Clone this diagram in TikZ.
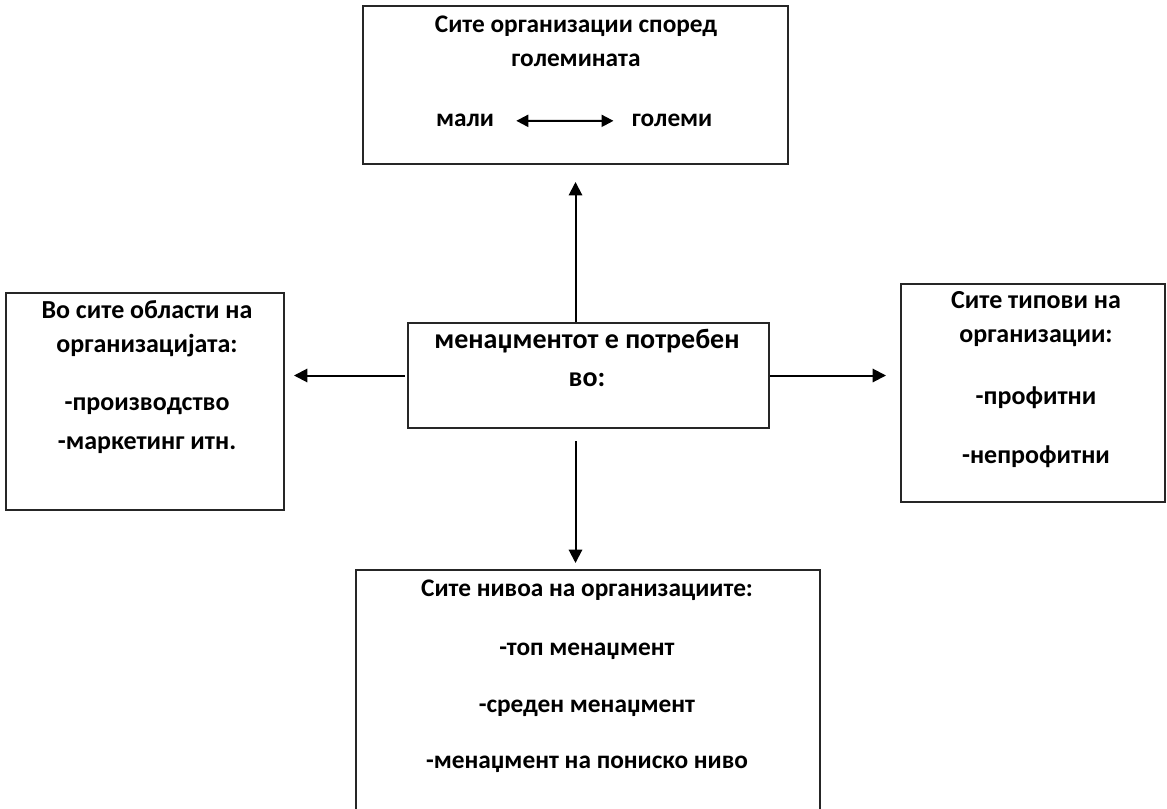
\documentclass[tikz,border=0pt]{standalone}
\usepackage{fontspec}
\setmainfont{Carlito}
\usetikzlibrary{arrows.meta,calc}
\tikzset{
  box/.style={draw=black!85, line width=1.5pt, fill=none, inner sep=0pt, anchor=north west},
  txt/.style={anchor=base, inner sep=0pt, font=\bfseries\fontsize{19pt}{23pt}\selectfont},
  ctxt/.style={anchor=base, inner sep=0pt, font=\bfseries\fontsize{21pt}{25pt}\selectfont},
  stxt/.style={anchor=base, inner sep=0pt, font=\bfseries\fontsize{19.5pt}{23pt}\selectfont},
  arr/.style={line width=1.5pt, draw=black, -{Triangle[length=10pt,width=10pt]}},
  darr/.style={line width=1.5pt, draw=black, {Triangle[length=9pt,width=9pt]}-{Triangle[length=9pt,width=9pt]}}
}
\begin{document}
\begin{tikzpicture}[x=0.75pt,y=-0.75pt]
\useasboundingbox (0,0) rectangle (1167,809);
% boxes
\node[box, minimum width=425*0.75pt, minimum height=158*0.75pt] (top) at (362,5) {};
\node[box, minimum width=361*0.75pt, minimum height=105*0.75pt] (ctr) at (407,322) {};
\node[box, minimum width=278*0.75pt, minimum height=217*0.75pt] (lft) at (5,292) {};
\begin{scope}
\clip (0,0) rectangle (1167,809);
\node[box, minimum width=264*0.75pt, minimum height=218*0.75pt] (rgt) at (900,283) {};
\node[box, minimum width=464*0.75pt, minimum height=250*0.75pt] (bot) at (355,569) {};
\end{scope}
% top box text
\node[txt] (t1) at (576,33) {Сите организации според};
\node[txt] (t2) at (576,67) {големината};
\node[txt] (mali) at (465,127) {мали};
\node[txt] (golemi) at (672,127) {големи};
\draw[darr] ($(mali.east)+(22,0)$) -- ($(golemi.west)+(-18,0)$);
% center text
\node[ctxt] (c1) at (587,348) {менаџментот е потребен};
\node[ctxt] (c2) at (587,386) {во:};
% left text
\node[stxt] (l1) at (147,318) {Во сите области на};
\node[stxt] (l2) at (147,352) {организацијата:};
\node[stxt] (l3) at (147,410) {-производство};
\node[stxt] (l4) at (147,449) {-маркетинг итн.};
% right text
\node[stxt] (r1) at (1036,309) {Сите типови на};
\node[stxt] (r2) at (1036,342) {организации:};
\node[stxt] (r3) at (1036,404) {-профитни};
\node[stxt] (r4) at (1036,463) {-непрофитни};
% bottom text
\node[txt] (b1) at (587,596) {Сите нивоа на организациите:};
\node[txt] (b2) at (587,655) {-топ менаџмент};
\node[txt] (b3) at (587,712) {-среден менаџмент};
\node[txt] (b4) at (587,768) {-менаџмент на пониско ниво};
% connectors
\coordinate (upend) at ($(top.south)+(0,17)$);
\draw[arr] (ctr.north -| upend) -- (upend);
\coordinate (dnend) at ($(bot.north -| top.south)+(0,-6)$);
\draw[arr] ($(ctr.south -| dnend)+(0,12)$) -- (dnend);
\coordinate (lend) at ($(lft.east |- ctr.west)+(9,0)$);
\draw[arr] ($(ctr.west)+(-2,0)$) -- (lend);
\coordinate (rend) at ($(rgt.west |- ctr.east)+(-14,0)$);
\draw[arr] (ctr.east) -- (rend);
\end{tikzpicture}
\end{document}
